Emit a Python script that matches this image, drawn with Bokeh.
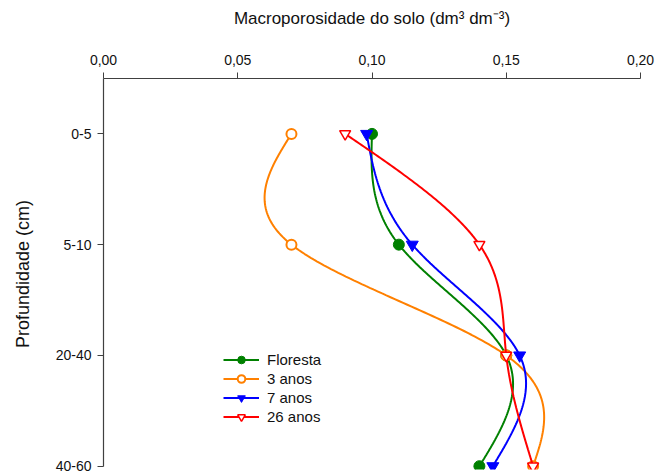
import numpy as np
from bokeh.plotting import figure
from bokeh.models import Range1d, FixedTicker, CustomJSTickFormatter, Legend, LegendItem
from bokeh.embed import file_html
from bokeh.resources import INLINE

# ---- data ----
depths = ["0-5", "5-10", "20-40", "40-60"]
floresta = [0.100, 0.110, 0.150, 0.140]
anos3 = [0.070, 0.070, 0.150, 0.160]
anos7 = [0.098, 0.115, 0.155, 0.145]
anos26 = [0.090, 0.140, 0.150, 0.160]
series_names = ["Floresta", "3 anos", "7 anos", "26 anos"]
x_ticks = [0.0, 0.05, 0.10, 0.15, 0.20]


def natural_spline(yv, n=60):
    """Natural cubic spline of x-values over uniform depth index."""
    yv = np.asarray(yv, dtype=float)
    k = len(yv)
    A = np.zeros((k, k))
    b = np.zeros(k)
    A[0, 0] = 1
    A[-1, -1] = 1
    for i in range(1, k - 1):
        A[i, i - 1] = 1
        A[i, i] = 4
        A[i, i + 1] = 1
        b[i] = 6 * (yv[i - 1] - 2 * yv[i] + yv[i + 1])
    M = np.linalg.solve(A, b)
    ts, xs = [], []
    for i in range(k - 1):
        t = np.linspace(0, 1, n)
        s = (yv[i] * (1 - t) + yv[i + 1] * t
             - t * (1 - t) / 6 * ((2 - t) * M[i] + (1 + t) * M[i + 1]))
        ts.extend(list(i + t))
        xs.extend(list(s))
    return xs, ts


p = figure(width=670, height=475, output_backend="svg", toolbar_location=None,
           x_axis_location="above",
           x_range=Range1d(0, 0.2), y_range=Range1d(3.03, -0.5),
           min_border_left=103, min_border_right=30, min_border_top=78, min_border_bottom=6)
p.outline_line_color = None
p.grid.grid_line_color = None

font = "Liberation Sans"
axcol = "#404040"

xa = p.xaxis[0]
xa.ticker = FixedTicker(ticks=x_ticks)
xa.formatter = CustomJSTickFormatter(code="return tick.toFixed(2).replace('.', ',');")
xa.axis_label = "Macroporosidade do solo (dm³ dm⁻³)"
ya = p.yaxis[0]
ya.ticker = FixedTicker(ticks=[0, 1, 2, 3])
ya.major_label_overrides = {i: d for i, d in enumerate(depths)}
ya.axis_label = "Profundidade (cm)"
ya.bounds = (-0.5, 3)

for ax in (xa, ya):
    ax.axis_line_color = axcol
    ax.major_tick_line_color = axcol
    ax.axis_line_width = 1.2
    ax.major_tick_out = 6
    ax.major_tick_in = 0
    ax.minor_tick_line_color = None
    ax.major_label_text_font = font
    ax.major_label_text_font_size = "14px"
    ax.major_label_text_color = "#111111"
    ax.axis_label_text_font = font
    ax.axis_label_text_font_style = "normal"
    ax.axis_label_text_color = "#111111"
xa.axis_label_text_font_size = "17px"
ya.axis_label_text_font_size = "18px"
xa.major_label_standoff = 8
xa.axis_label_standoff = 24
ya.major_label_standoff = 6
ya.axis_label_standoff = 20

yidx = list(range(len(depths)))
colors = ["#008000", "#ff8000", "#0000ff", "#ff0000"]
datas = [floresta, anos3, anos7, anos26]
items = []
for name, col, d in zip(series_names, colors, datas):
    xs, ts = natural_spline(d)
    r_line = p.line(xs, ts, line_color=col, line_width=2)
    if name == "Floresta":
        r_m = p.scatter(d, yidx, marker="circle", size=11, fill_color=col, line_color=col)
    elif name == "3 anos":
        r_m = p.scatter(d, yidx, marker="circle", size=10, fill_color="white", line_color=col, line_width=2)
    elif name == "7 anos":
        r_m = p.scatter(d, yidx, marker="inverted_triangle", size=12, fill_color=col, line_color=col)
    else:
        r_m = p.scatter(d, yidx, marker="inverted_triangle", size=11, fill_color="white", line_color=col, line_width=1.5)
    items.append(LegendItem(label=name, renderers=[r_line, r_m]))

legend = Legend(items=items, location=(120, 43), border_line_color=None,
                background_fill_alpha=0, padding=0, margin=0, spacing=0,
                glyph_width=36, glyph_height=19, label_height=19,
                label_standoff=8, label_text_font=font, label_text_font_size="15px",
                label_text_color="#111111")
p.add_layout(legend, "center")

open("out.html", "w").write(file_html(p, INLINE))
